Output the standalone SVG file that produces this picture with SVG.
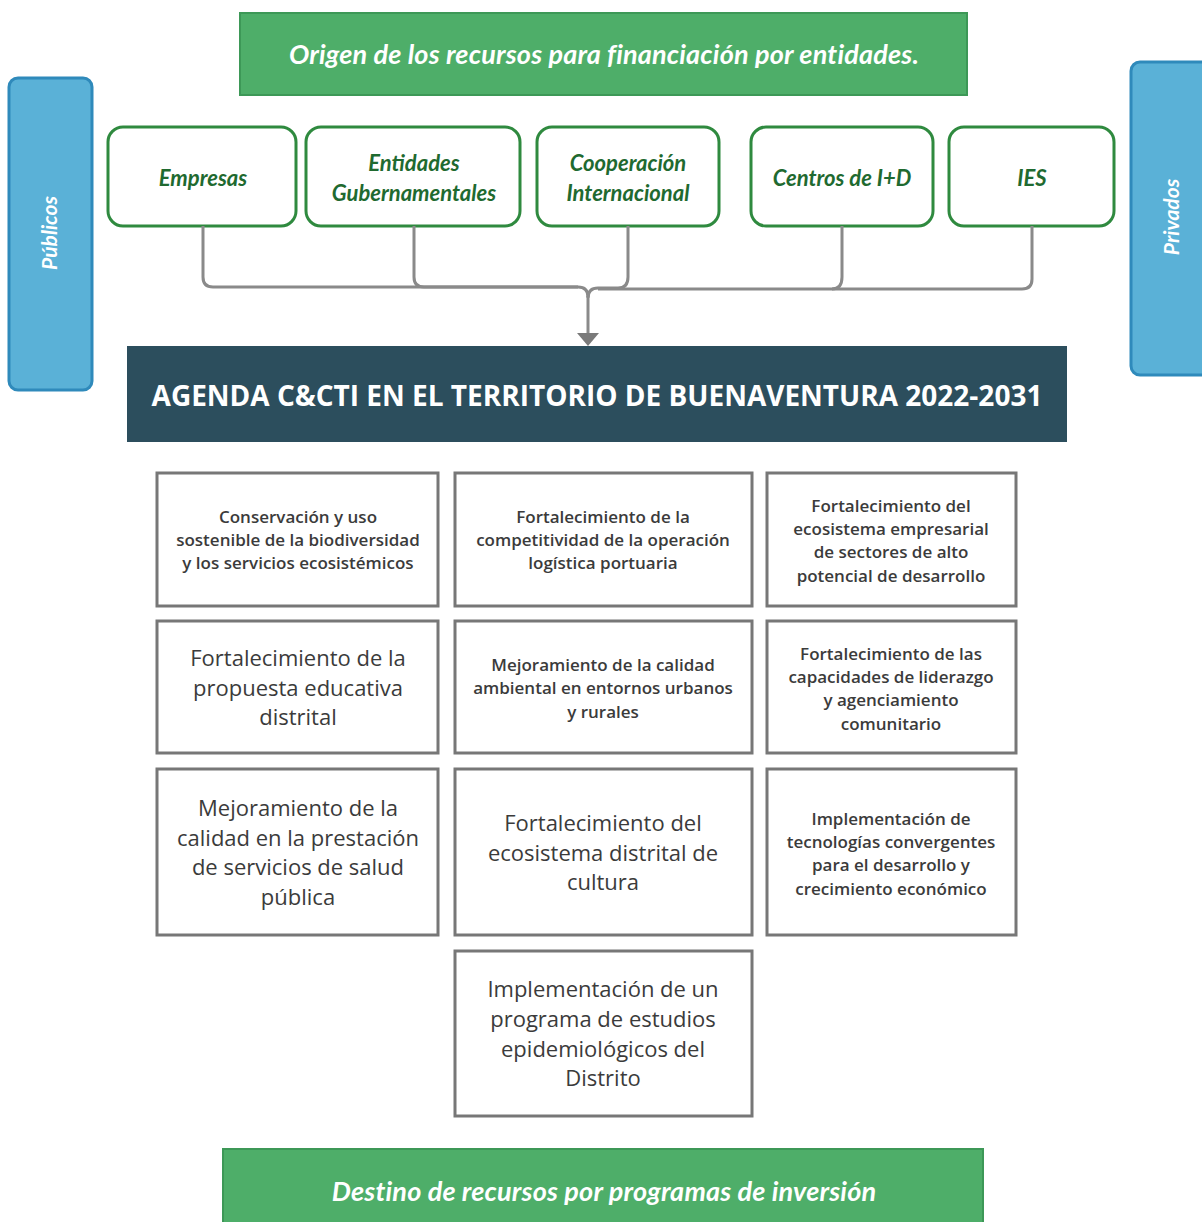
<svg xmlns="http://www.w3.org/2000/svg" width="1202" height="1222" viewBox="0 0 1202 1222">
<style>
.banner{fill:#4eae69;stroke:#3d9857;stroke-width:2}
.btxt{font-family:Lato,"Open Sans",sans-serif;font-style:italic;font-weight:bold;font-size:27px;letter-spacing:0.2px;fill:#ffffff;text-anchor:middle}
.side{fill:#5ab1d7;stroke:#2f8abb;stroke-width:3}
.stxt{font-family:Lato,"Open Sans",sans-serif;font-style:italic;font-weight:bold;font-size:21px;fill:#ffffff;text-anchor:middle}
.ent{fill:#ffffff;stroke:#2f8a3f;stroke-width:3}
.etxt{font-family:Lato,"Open Sans",sans-serif;font-style:italic;font-weight:bold;font-size:22px;fill:#1f6a30;text-anchor:middle}
.agenda{fill:#2c4e5d}
.atxt{font-family:"Open Sans",sans-serif;font-weight:bold;font-size:28px;fill:#ffffff;text-anchor:middle}
.prog{fill:#ffffff;stroke:#777777;stroke-width:3}
.ptxt{font-family:"Open Sans",sans-serif;font-weight:600;font-size:17px;fill:#3b3b3b;text-anchor:middle}
.ptxtL{font-family:"Open Sans",sans-serif;font-weight:500;font-size:22px;fill:#3b3b3b;text-anchor:middle}
.conn{fill:none;stroke:#8a8a8a;stroke-width:3}
</style>
<rect width="1202" height="1222" fill="#ffffff"/>

<g id="origen">
<rect class="banner" x="240" y="13" width="727" height="82"/>
<text class="btxt" x="604" y="64">Origen de los recursos para financiación por entidades.</text>
</g>

<g id="publicos">
<rect class="side" x="9" y="78" width="83" height="312" rx="9"/>
<text class="stxt" transform="translate(57,233) rotate(-90)">Públicos</text>
</g>
<g id="privados">
<rect class="side" x="1131" y="62" width="80" height="313" rx="9"/>
<text class="stxt" transform="translate(1179,217) rotate(-90)">Privados</text>
</g>

<g id="empresas">
<rect class="ent" x="108" y="127" width="188" height="99" rx="15"/>
<text class="etxt" x="203" y="186">Empresas</text>
</g>
<g id="entidades">
<rect class="ent" x="306" y="127" width="214" height="99" rx="15"/>
<text class="etxt" x="414" y="171">Entidades</text>
<text class="etxt" x="414" y="201">Gubernamentales</text>
</g>
<g id="cooperacion">
<rect class="ent" x="537" y="127" width="182" height="99" rx="15"/>
<text class="etxt" x="628" y="171">Cooperación</text>
<text class="etxt" x="628" y="201">Internacional</text>
</g>
<g id="centros">
<rect class="ent" x="751" y="127" width="182" height="99" rx="15"/>
<text class="etxt" x="842" y="186">Centros de I+D</text>
</g>
<g id="ies">
<rect class="ent" x="949" y="127" width="165" height="99" rx="15"/>
<text class="etxt" x="1032" y="186">IES</text>
</g>

<g id="connectors">
<path class="conn" d="M203 226 V277 Q203 287 213 287 H578 Q588 287 588 297"/>
<path class="conn" d="M414 226 V277 Q414 287 424 287 H578"/>
<path class="conn" d="M628 226 V277 Q628 288 618 288 H598 Q588 288 588 298"/>
<path class="conn" d="M842 226 V277 Q842 289 832 289 H598"/>
<path class="conn" d="M1032 226 V279 Q1032 289 1022 289 H832"/>
<path class="conn" d="M588 296 V334"/>
<polygon points="577,333 599,333 588,346" fill="#7a7a7a"/>
</g>

<g id="agenda">
<rect class="agenda" x="127" y="346" width="940" height="96"/>
<text class="atxt" x="597" y="406">AGENDA C&amp;CTI EN EL TERRITORIO DE BUENAVENTURA 2022-2031</text>
</g>

<g id="p1">
<rect class="prog" x="157" y="473" width="281" height="133"/>
<text class="ptxt" x="298" y="523">Conservación y uso</text>
<text class="ptxt" x="298" y="546">sostenible de la biodiversidad</text>
<text class="ptxt" x="298" y="569">y los servicios ecosistémicos</text>
</g>
<g id="p2">
<rect class="prog" x="455" y="473" width="297" height="133"/>
<text class="ptxt" x="603" y="523">Fortalecimiento de la</text>
<text class="ptxt" x="603" y="546">competitividad de la operación</text>
<text class="ptxt" x="603" y="569">logística portuaria</text>
</g>
<g id="p3">
<rect class="prog" x="767" y="473" width="249" height="133"/>
<text class="ptxt" x="891" y="512">Fortalecimiento del</text>
<text class="ptxt" x="891" y="535">ecosistema empresarial</text>
<text class="ptxt" x="891" y="558">de sectores de alto</text>
<text class="ptxt" x="891" y="582">potencial de desarrollo</text>
</g>
<g id="p4">
<rect class="prog" x="157" y="621" width="281" height="132"/>
<text class="ptxtL" x="298" y="666">Fortalecimiento de la</text>
<text class="ptxtL" x="298" y="696">propuesta educativa</text>
<text class="ptxtL" x="298" y="725">distrital</text>
</g>
<g id="p5">
<rect class="prog" x="455" y="621" width="297" height="132"/>
<text class="ptxt" x="603" y="671">Mejoramiento de la calidad</text>
<text class="ptxt" x="603" y="694">ambiental en entornos urbanos</text>
<text class="ptxt" x="603" y="718">y rurales</text>
</g>
<g id="p6">
<rect class="prog" x="767" y="621" width="249" height="132"/>
<text class="ptxt" x="891" y="660">Fortalecimiento de las</text>
<text class="ptxt" x="891" y="683">capacidades de liderazgo</text>
<text class="ptxt" x="891" y="706">y agenciamiento</text>
<text class="ptxt" x="891" y="730">comunitario</text>
</g>
<g id="p7">
<rect class="prog" x="157" y="769" width="281" height="166"/>
<text class="ptxtL" x="298" y="816">Mejoramiento de la</text>
<text class="ptxtL" x="298" y="846">calidad en la prestación</text>
<text class="ptxtL" x="298" y="875">de servicios de salud</text>
<text class="ptxtL" x="298" y="905">pública</text>
</g>
<g id="p8">
<rect class="prog" x="455" y="769" width="297" height="166"/>
<text class="ptxtL" x="603" y="831">Fortalecimiento del</text>
<text class="ptxtL" x="603" y="861">ecosistema distrital de</text>
<text class="ptxtL" x="603" y="890">cultura</text>
</g>
<g id="p9">
<rect class="prog" x="767" y="769" width="249" height="166"/>
<text class="ptxt" x="891" y="825">Implementación de</text>
<text class="ptxt" x="891" y="848">tecnologías convergentes</text>
<text class="ptxt" x="891" y="871">para el desarrollo y</text>
<text class="ptxt" x="891" y="895">crecimiento económico</text>
</g>
<g id="p10">
<rect class="prog" x="455" y="951" width="297" height="165"/>
<text class="ptxtL" x="603" y="997">Implementación de un</text>
<text class="ptxtL" x="603" y="1027">programa de estudios</text>
<text class="ptxtL" x="603" y="1057">epidemiológicos del</text>
<text class="ptxtL" x="603" y="1086">Distrito</text>
</g>

<g id="destino">
<rect class="banner" x="223" y="1149" width="760" height="80"/>
<text class="btxt" x="604" y="1201">Destino de recursos por programas de inversión</text>
</g>
</svg>
